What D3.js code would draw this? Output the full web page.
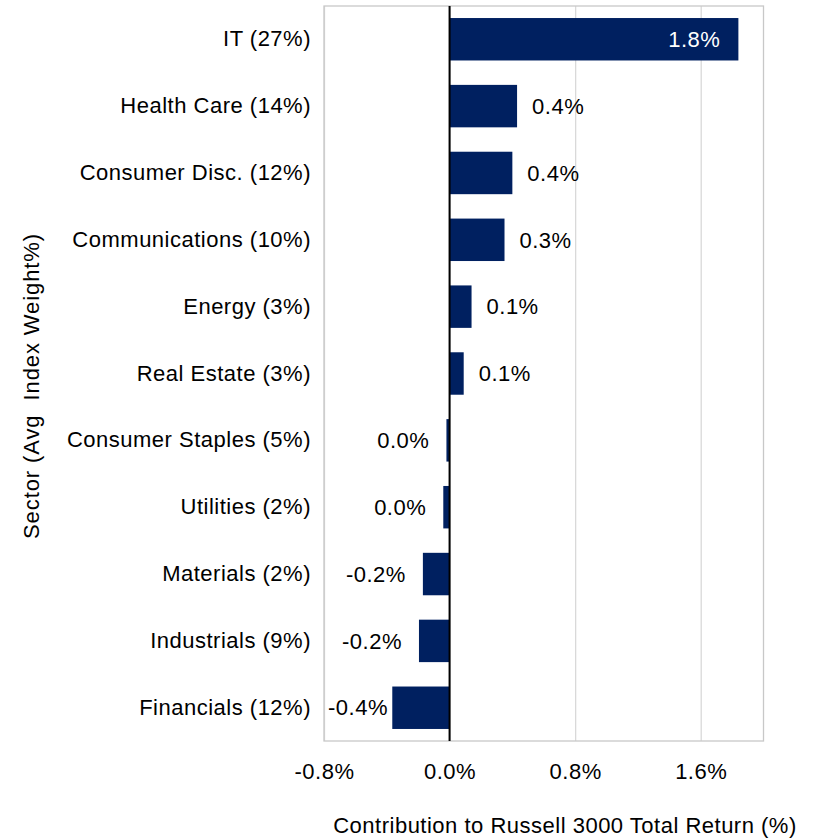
<!DOCTYPE html>
<html>
<head>
<meta charset="utf-8">
<script src="https://cdn.jsdelivr.net/npm/d3@7"></script>
<style>
  body { margin: 0; background: #fff; }
  text { font-family: "Liberation Sans", Arial, sans-serif; letter-spacing: 0.5px; }
</style>
</head>
<body>
<div id="wrapper"></div>
<script>
const sectors = ["IT (27%)", "Health Care (14%)", "Consumer Disc. (12%)", "Communications (10%)",
	"Energy (3%)", "Real Estate (3%)", "Consumer Staples (5%)", "Utilities (2%)",
	"Materials (2%)", "Industrials (9%)", "Financials (12%)"];
const contributions = [1.84, 0.43, 0.40, 0.35, 0.14, 0.09, -0.02, -0.04, -0.17, -0.195, -0.365];
const xTicks = [-0.8, 0.0, 0.8, 1.6];
const xDomain = [-0.8, 2.0];

function drawBar(){
	const dataset = sectors.map((s, i) => ({sector: s, value: contributions[i]}));
	const xAccessor = d => d.value;
	const yAccessor = d => d.sector;

	let dimensions = {
		width: 819,
		height: 838,
		margin: { top: 6, right: 55.5, bottom: 97, left: 324 }
	};
	dimensions.boundedWidth = dimensions.width - dimensions.margin.left - dimensions.margin.right;
	dimensions.boundedHeight = dimensions.height - dimensions.margin.top - dimensions.margin.bottom;

	const wrapper = d3.select("#wrapper").append("svg")
		.attr("width", dimensions.width)
		.attr("height", dimensions.height);

	const bounds = wrapper.append("g")
		.attr("transform", `translate(${dimensions.margin.left},${dimensions.margin.top})`);

	const xScaler = d3.scaleLinear()
		.domain(xDomain)
		.range([0, dimensions.boundedWidth]);

	const yScaler = d3.scaleBand()
		.domain(sectors)
		.range([0, dimensions.boundedHeight])
		.paddingInner(0.365)
		.paddingOuter(0.18);

	// no "-0.0%"
	const fmt = v => (Math.abs(v) < 0.05 ? 0 : v).toFixed(1) + "%";
	const fontSize = 22;

	// gridlines
	const grid = bounds.append("g")
		.call(d3.axisBottom(xScaler).tickValues(xTicks).tickSize(dimensions.boundedHeight).tickFormat(""));
	grid.select(".domain").remove();
	grid.selectAll("line").attr("stroke", "#d9d9d9").attr("stroke-width", 1.3);

	// plot border
	bounds.append("rect")
		.attr("width", dimensions.boundedWidth)
		.attr("height", dimensions.boundedHeight)
		.attr("fill", "none")
		.attr("stroke", "#c8c8c8")
		.attr("stroke-width", 1.3);

	// bars
	bounds.append("g").selectAll("rect")
		.data(dataset)
		.join("rect")
		.attr("x", d => xScaler(Math.min(0, xAccessor(d))))
		.attr("y", d => yScaler(yAccessor(d)))
		.attr("width", d => Math.abs(xScaler(xAccessor(d)) - xScaler(0)))
		.attr("height", yScaler.bandwidth())
		.attr("fill", "#002060");

	// zero line
	bounds.append("line")
		.attr("x1", xScaler(0)).attr("x2", xScaler(0))
		.attr("y1", 0).attr("y2", dimensions.boundedHeight)
		.attr("stroke", "#000").attr("stroke-width", 2);

	// data labels
	const maxVal = d3.max(contributions);
	const labels = bounds.append("g").selectAll("text")
		.data(dataset)
		.join("text")
		.attr("y", d => yScaler(yAccessor(d)) + yScaler.bandwidth() / 2)
		.attr("dy", "0.35em")
		.style("font-size", fontSize + "px")
		.attr("fill", d => xAccessor(d) === maxVal ? "#fff" : "#000")
		.attr("text-anchor", d => xAccessor(d) >= 0 && xAccessor(d) !== maxVal ? "start" : "end")
		.text(d => fmt(xAccessor(d)));
	labels.attr("x", function(d){
		const v = xAccessor(d);
		if (v === maxVal) return xScaler(v) - 18;
		if (v >= 0) return xScaler(v) + 15;
		const w = this.getComputedTextLength();
		return Math.max(xScaler(v) - 17, w + 4);
	});

	// x axis
	const axisX = bounds.append("g")
		.attr("transform", `translate(0,${dimensions.boundedHeight})`)
		.call(d3.axisBottom(xScaler).tickValues(xTicks).tickSize(0).tickPadding(22).tickFormat(fmt));
	axisX.select(".domain").remove();
	axisX.selectAll("text").style("font-size", fontSize + "px").attr("fill", "#000");

	// y axis
	const axisY = bounds.append("g")
		.call(d3.axisLeft(yScaler).tickSize(0).tickPadding(13));
	axisY.select(".domain").remove();
	axisY.selectAll("text").style("font-size", fontSize + "px").attr("fill", "#000");

	// axis titles
	wrapper.append("text")
		.attr("x", 565)
		.attr("y", 833)
		.attr("text-anchor", "middle")
		.style("font-size", fontSize + "px")
		.text("Contribution to Russell 3000 Total Return (%)");

	wrapper.append("text")
		.attr("transform", `translate(39,386) rotate(-90)`)
		.attr("text-anchor", "middle")
		.style("font-size", fontSize + "px")
		.style("letter-spacing", "0.9px")
		.style("white-space", "pre")
		.attr("xml:space", "preserve")
		.text("Sector (Avg  Index Weight%)");
}

drawBar();
</script>
</body>
</html>
